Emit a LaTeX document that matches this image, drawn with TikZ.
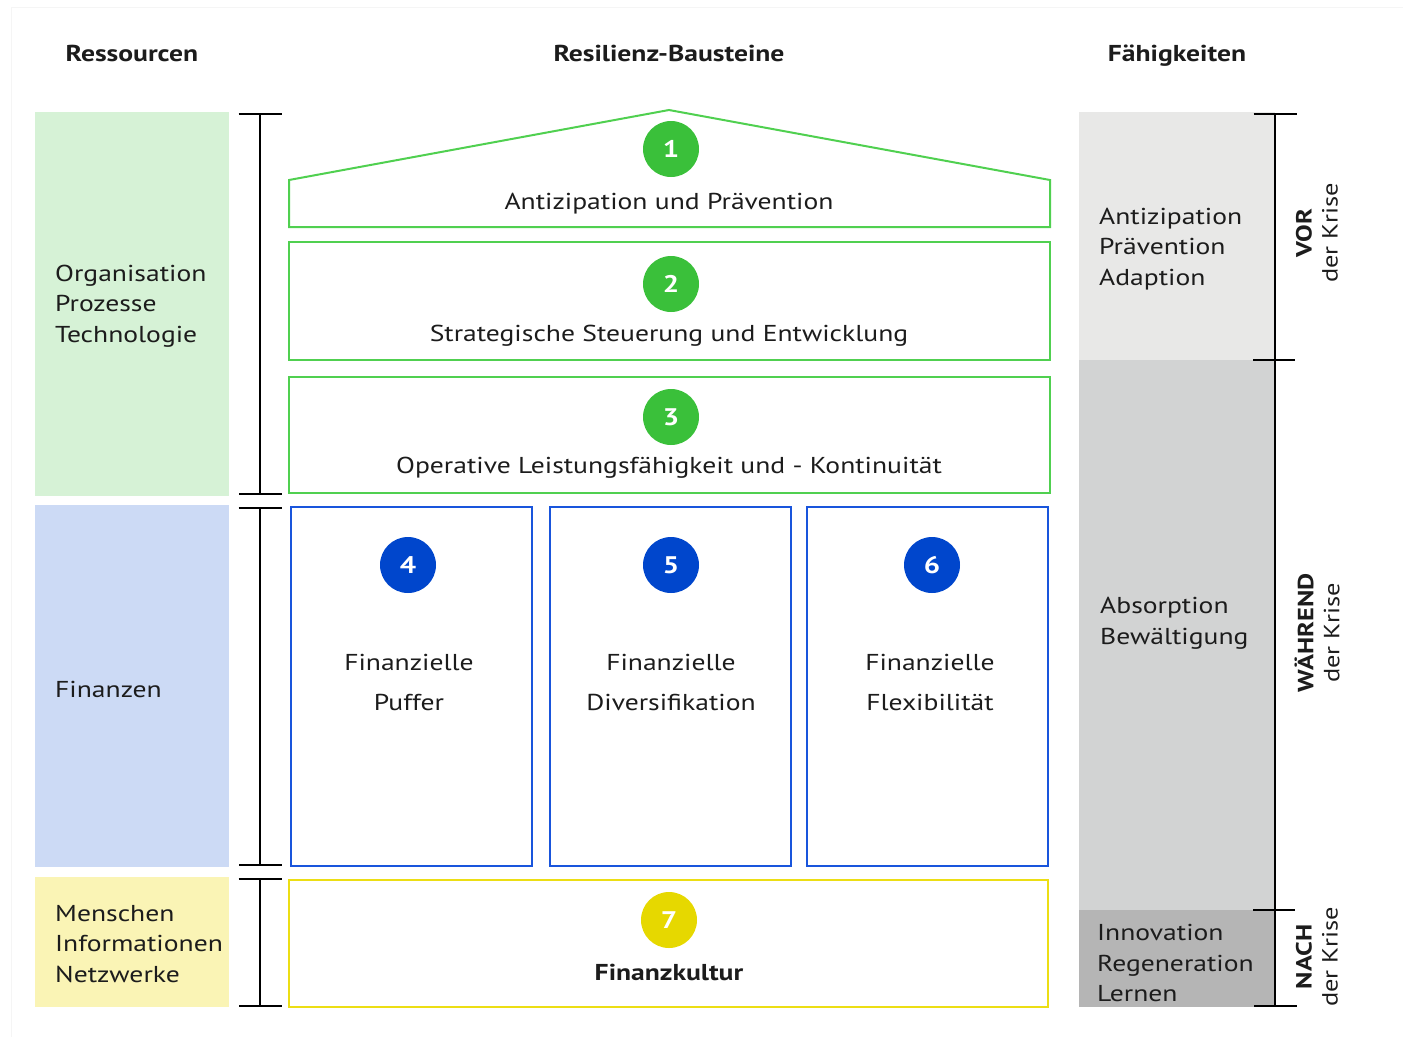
\documentclass[tikz,border=0pt]{standalone}
\usepackage{fontspec}
\setmainfont{PT Sans}[FakeStretch=1.2]
\usetikzlibrary{arrows.meta, positioning, calc}

\definecolor{orgfill}{RGB}{214,242,214}
\definecolor{finfill}{RGB}{204,218,245}
\definecolor{menfill}{RGB}{250,244,181}
\definecolor{vorfill}{RGB}{232,232,231}
\definecolor{waefill}{RGB}{210,211,211}
\definecolor{nachfill}{RGB}{181,181,181}
\definecolor{bgreen}{RGB}{80,208,80}
\definecolor{cgreen}{RGB}{58,192,58}
\definecolor{bblue}{RGB}{25,85,220}
\definecolor{cblue}{RGB}{0,70,204}
\definecolor{byellow}{RGB}{236,222,20}
\definecolor{cyellow}{RGB}{230,216,0}
\definecolor{txt}{RGB}{28,28,28}

\begin{document}
\begin{tikzpicture}[x=1pt, y=-1pt,
    every node/.style={inner sep=0pt, text=txt, font=\fontsize{23}{30.5}\selectfont},
    head/.style={anchor=base, font=\fontsize{23}{28}\selectfont\bfseries},
    res/.style={minimum width=194pt},
    blk/.style={draw, line width=2pt},
    num/.style={circle, minimum size=56pt, text=white, font=\fontsize{24}{24}\selectfont\bfseries},
    lbl/.style={anchor=west, align=left},
    when/.style={rotate=90, align=center, font=\fontsize{22}{26}\selectfont},
    brk/.style={line width=1.6pt, {Bar[width=43pt]}-{Bar[width=43pt]}},
    >=Stealth
  ]
  \useasboundingbox (0,0) rectangle (1403,1037);
  \draw[black!4, line width=1pt] (11,1037) -- (11,7) -- (1403,7);

  % column titles
  \node[head] (hres) at (132,61) {Ressourcen};
  \node[head] (hbau) at (669,61) {Resilienz-Bausteine};
  \node[head] (hfae) at (1177,61) {Fähigkeiten};

  % resources
  \node[res, fill=orgfill, minimum height=384pt] (org) at (132,304) {};
  \node[res, fill=finfill, minimum height=362pt] (fin) at (132,686) {};
  \node[res, fill=menfill, minimum height=130pt] (men) at (132,942) {};
  \node[lbl] (orgtxt) at (55,306) {Organisation\\Prozesse\\Technologie};
  \node[lbl] (fintxt) at (55,689) {Finanzen};
  \node[lbl] (mentxt) at (55,944) {Menschen\\Informationen\\Netzwerke};

  \draw[brk] (260,113) -- (260,495);
  \draw[brk] (260,507) -- (260,866);
  \draw[brk] (260,878) -- (260,1007);

  % building blocks
  \draw[blk, draw=bgreen] (289,227) -- (289,180) -- (669,110) -- (1050,180) -- (1050,227) -- cycle;
  \node[blk, draw=bgreen, minimum width=761pt, minimum height=118pt] (b2) at (669.5,301) {};
  \node[blk, draw=bgreen, minimum width=761pt, minimum height=116pt] (b3) at (669.5,435) {};
  \node[blk, draw=bblue, minimum width=241pt, minimum height=359pt] (b4) at (411.5,686.5) {};
  \node[blk, draw=bblue, minimum width=241pt, minimum height=359pt] (b5) at (670.5,686.5) {};
  \node[blk, draw=bblue, minimum width=241pt, minimum height=359pt] (b6) at (927.5,686.5) {};
  \node[blk, draw=byellow, minimum width=759pt, minimum height=127pt] (b7) at (668.5,943.5) {};

  \node[num, fill=cgreen] (n1) at (671,149) {1};
  \node[num, fill=cgreen] (n2) at (671,284) {2};
  \node[num, fill=cgreen] (n3) at (671,417) {3};
  \node[num, fill=cblue] (n4) at (408,565) {4};
  \node[num, fill=cblue] (n5) at (671,565) {5};
  \node[num, fill=cblue] (n6) at (932,565) {6};
  \node[num, fill=cyellow] (n7) at (669,920) {7};

  \node[anchor=base] (t1) at (669,209) {Antizipation und Prävention};
  \node[anchor=base] (t2) at (669,341) {Strategische Steuerung und Entwicklung};
  \node[anchor=base] (t3) at (669,473) {Operative Leistungsfähigkeit und - Kontinuität};
  \node[align=center, font=\fontsize{23}{40}\selectfont] (t4) at (409,682) {Finanzielle\\Puffer};
  \node[align=center, font=\fontsize{23}{40}\selectfont] (t5) at (671,682) {Finanzielle\\Diversifikation};
  \node[align=center, font=\fontsize{23}{40}\selectfont] (t6) at (930,682) {Finanzielle\\Flexibilität};
  \node[anchor=base, font=\fontsize{23}{28}\selectfont\bfseries] (t7) at (669,980) {Finanzkultur};

  % capabilities
  \node[res, fill=vorfill, minimum width=196pt, minimum height=248pt] (vor) at (1177,236) {};
  \node[res, fill=waefill, minimum width=196pt, minimum height=550pt] (wae) at (1177,635) {};
  \node[res, fill=nachfill, minimum width=196pt, minimum height=97pt] (nach) at (1177,958.5) {};
  \node[lbl] (vortxt) at (1099,249) {Antizipation\\Prävention\\Adaption};
  \node[lbl] (waetxt) at (1100,623) {Absorption\\Bewältigung};
  \node[lbl] (nachtxt) at (1097,963) {Innovation\\Regeneration\\Lernen};

  \draw[brk] (1275,113) -- (1275,1007);
  \draw[line width=1.6pt] (1253,360) -- (1295,360);
  \draw[line width=1.6pt] (1253,910) -- (1295,910);

  \node[when] (vorlbl) at (1317,233) {\textbf{VOR}\\der Krise};
  \node[when] (waelbl) at (1317,633) {\textbf{WÄHREND}\\der Krise};
  \node[when] (nachlbl) at (1317,957) {\textbf{NACH}\\der Krise};
\end{tikzpicture}
\end{document}
